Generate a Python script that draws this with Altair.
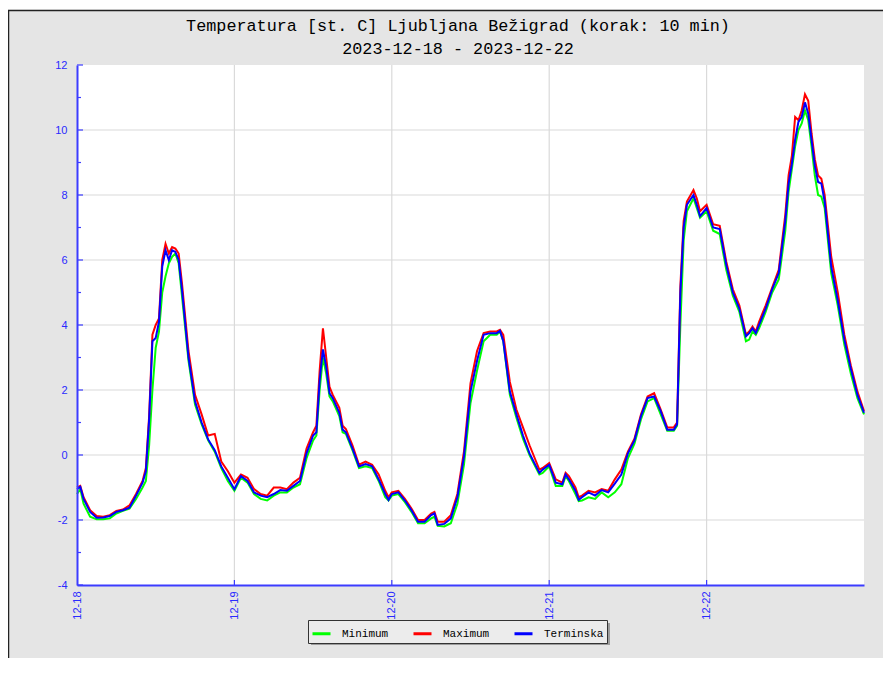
import json
import pandas as pd
import altair as alt

# ---------------- data (hours since 2023-12-18 00:00) ----------------
hours = [
    0, 0.5, 1, 2, 3, 4, 5, 6, 7, 8, 9, 10, 10.5, 11, 11.5, 12, 12.5, 13, 13.5, 14, 14.5, 15, 15.5, 16, 17, 18, 19, 20, 21, 22, 23,
    24, 25, 26, 27, 28, 29, 30, 31, 32, 33, 34, 35, 36, 36.5, 37, 37.5, 38, 38.5, 39, 40, 40.5, 41, 42, 43, 44, 45, 46, 47, 47.5,
    48, 49, 50, 51, 52, 53, 54, 54.5, 55, 56, 57, 58, 59, 60, 61, 62, 63, 64, 64.5, 65, 66, 67, 68, 69, 70, 70.5, 71,
    72, 73, 74, 74.5, 75, 76, 76.5, 77, 78, 79, 80, 81, 82, 83, 84, 85, 86, 87, 88, 89, 90, 91, 91.5, 92, 92.5, 93, 94, 94.5, 95,
    96, 97, 98, 99, 100, 101, 102, 102.5, 103, 103.5, 104, 105, 106, 107, 108, 108.5, 109, 109.5,
    110, 110.5, 111, 111.5, 112, 112.5, 113, 113.5, 114, 115, 116, 117, 118, 119, 120,
]

terminska = [
    -1.05, -0.98, -1.35, -1.75, -1.93, -1.92, -1.88, -1.75, -1.7, -1.62, -1.25, -0.85, -0.5, 1.1, 3.5, 3.6, 4.1, 5.8, 6.3, 6.0, 6.3, 6.25, 6.0, 5.1, 3.0, 1.65, 1.0, 0.48, 0.15, -0.35, -0.7,
    -1.05, -0.65, -0.8, -1.15, -1.25, -1.3, -1.2, -1.08, -1.1, -0.95, -0.8, 0.05, 0.6, 0.7, 2.3, 3.25, 2.7, 1.9, 1.75, 1.3, 0.78, 0.7, 0.2, -0.35, -0.28, -0.35, -0.75, -1.2, -1.38,
    -1.2, -1.15, -1.4, -1.7, -2.05, -2.05, -1.85, -1.8, -2.15, -2.12, -1.95, -1.3, -0.05, 1.95, 2.9, 3.7, 3.75, 3.75, 3.82, 3.5, 1.95, 1.25, 0.6, 0.05, -0.35, -0.55, -0.45,
    -0.3, -0.85, -0.9, -0.6, -0.75, -1.1, -1.38, -1.3, -1.15, -1.25, -1.08, -1.15, -0.88, -0.6, 0.05, 0.45, 1.2, 1.75, 1.8, 1.35, 0.78, 0.78, 0.95, 5.0, 7.0, 7.7, 8.0, 7.7, 7.35,
    7.6, 7.0, 6.95, 5.85, 5.0, 4.5, 3.65, 3.75, 3.9, 3.75, 4.0, 4.5, 5.1, 5.6, 7.2, 8.35, 8.95, 9.7,
    10.25, 10.4, 10.85, 10.5, 9.7, 8.9, 8.4, 8.35, 7.8, 5.8, 4.75, 3.55, 2.65, 1.85, 1.3,
]

maximum = [
    -1.0, -0.95, -1.3, -1.7, -1.88, -1.9, -1.85, -1.72, -1.68, -1.55, -1.2, -0.8, -0.4, 1.2, 3.7, 4.0, 4.2, 6.0, 6.5, 6.2, 6.4, 6.35, 6.2, 5.3, 3.2, 1.85, 1.25, 0.6, 0.65, -0.2, -0.5,
    -0.85, -0.6, -0.7, -1.05, -1.2, -1.25, -1.0, -1.0, -1.05, -0.85, -0.7, 0.2, 0.7, 0.9, 2.6, 3.9, 3.0, 2.1, 1.85, 1.45, 0.9, 0.8, 0.3, -0.3, -0.2, -0.3, -0.6, -1.1, -1.3,
    -1.15, -1.1, -1.35, -1.65, -2.0, -2.0, -1.8, -1.75, -2.05, -2.05, -1.85, -1.2, 0.1, 2.2, 3.2, 3.75, 3.8, 3.8, 3.85, 3.7, 2.25, 1.4, 0.85, 0.3, -0.2, -0.45, -0.4,
    -0.25, -0.75, -0.85, -0.55, -0.65, -1.0, -1.3, -1.25, -1.1, -1.15, -1.05, -1.1, -0.75, -0.45, 0.1, 0.5, 1.25, 1.8, 1.9, 1.4, 0.85, 0.85, 1.0, 5.2, 7.2, 7.8, 8.15, 7.9, 7.5,
    7.7, 7.1, 7.05, 5.95, 5.1, 4.6, 3.7, 3.8, 3.95, 3.8, 4.1, 4.6, 5.15, 5.7, 7.4, 8.6, 9.2, 10.4,
    10.3, 10.6, 11.1, 10.9, 9.9, 9.1, 8.6, 8.5, 8.0, 6.1, 5.0, 3.7, 2.75, 1.95, 1.35,
]

minimum = [
    -1.2, -1.05, -1.5, -1.9, -1.98, -1.98, -1.95, -1.8, -1.72, -1.65, -1.35, -1.0, -0.8, 0.3, 2.0, 3.3, 3.8, 5.0, 5.5, 5.9, 6.1, 6.2, 5.9, 4.9, 2.9, 1.55, 0.95, 0.45, 0.1, -0.4, -0.8,
    -1.1, -0.7, -0.85, -1.2, -1.35, -1.4, -1.25, -1.15, -1.15, -1.0, -0.9, -0.1, 0.45, 0.6, 2.0, 3.0, 2.5, 1.8, 1.65, 1.2, 0.7, 0.65, 0.15, -0.4, -0.35, -0.4, -0.8, -1.3, -1.4,
    -1.25, -1.2, -1.45, -1.75, -2.1, -2.1, -1.95, -1.9, -2.18, -2.2, -2.1, -1.5, -0.3, 1.6, 2.6, 3.5, 3.7, 3.7, 3.8, 3.5, 1.85, 1.15, 0.5, 0.0, -0.4, -0.6, -0.55,
    -0.35, -0.95, -0.95, -0.65, -0.8, -1.2, -1.42, -1.4, -1.3, -1.35, -1.15, -1.3, -1.15, -0.9, -0.1, 0.35, 1.1, 1.65, 1.75, 1.25, 0.75, 0.75, 0.9, 4.0, 6.6, 7.5, 7.9, 7.6, 7.3,
    7.5, 6.9, 6.8, 5.7, 4.9, 4.4, 3.5, 3.55, 3.8, 3.7, 3.9, 4.4, 5.0, 5.4, 6.9, 8.1, 8.8, 9.5,
    10.0, 10.2, 10.6, 10.3, 9.5, 8.6, 8.0, 7.95, 7.6, 5.6, 4.6, 3.4, 2.5, 1.75, 1.25,
]

series_names = ["Minimum", "Maximum", "Terminska"]
series_colors = ["#00ff00", "#ff0000", "#0000ff"]

day_hours = [0, 24, 48, 72, 96]
day_labels = ["12-18", "12-19", "12-20", "12-21", "12-22"]
grid_x = [24, 48, 72, 96]
grid_y = [-2, 0, 2, 4, 6, 8, 10]
y_labels = [-4, -2, 0, 2, 4, 6, 8, 10, 12]
y_major = [-4, -2, 0, 2, 4, 6, 8, 10, 12]
y_minor = [-3, -1, 1, 3, 5, 7, 9, 11]

title_lines = ["Temperatura [st. C] Ljubljana Bežigrad (korak: 10 min)",
               "2023-12-18 - 2023-12-22"]

# ---------------- build tables ----------------
rows = []
for name, vals in zip(series_names, [minimum, maximum, terminska]):
    for h, v in zip(hours, vals):
        rows.append({"h": h, "v": v, "serija": name})
df = pd.DataFrame(rows)

W, H = 787, 520
BLUE_AX = "#3c3cff"
BLUE_TXT = "#2a2aff"

xs = alt.Scale(domain=[0, 120], nice=False, zero=False)
ys = alt.Scale(domain=[-4, 12], nice=False, zero=False)

label_expr = json.dumps(day_labels) + "[round(datum.value / 24)]"

x_axis = alt.Axis(values=day_hours, labelExpr=label_expr, labelAngle=270, labelPadding=6,
                  ticks=False, grid=False, domainColor=BLUE_AX, domainWidth=2,
                  labelColor=BLUE_TXT, labelFont="Liberation Sans", labelFontSize=11,
                  title=None, zindex=1)
y_axis = alt.Axis(values=y_labels, labelExpr="'' + datum.value", ticks=False, grid=False,
                  domainColor=BLUE_AX, domainWidth=2, labelColor=BLUE_TXT,
                  labelFont="Liberation Sans", labelFontSize=11, labelPadding=10,
                  title=None, zindex=1)

one = pd.DataFrame({"k": [0]})

# frame border of the image
border_left = alt.Chart(one).mark_rule(color="#222222", strokeWidth=1.5).encode(
    x=alt.value(-68.5), y=alt.value(-55), y2=alt.value(620))
border_top = alt.Chart(one).mark_rule(color="#222222", strokeWidth=1.5).encode(
    x=alt.value(-69), x2=alt.value(830), y=alt.value(-54.5))
white_top = alt.Chart(one).mark_rule(color="white", strokeWidth=2.5).encode(
    x=alt.value(-69), x2=alt.value(830), y=alt.value(-56.5))

gy = alt.Chart(pd.DataFrame({"v": grid_y})).mark_rule(color="#dadada", strokeWidth=1.2).encode(
    y=alt.Y("v:Q", scale=ys, axis=y_axis))
gx = alt.Chart(pd.DataFrame({"v": grid_x})).mark_rule(color="#dadada", strokeWidth=1.2).encode(
    x=alt.X("v:Q", scale=xs, axis=x_axis))

tick_major = alt.Chart(pd.DataFrame({"v": y_major})).mark_rule(color=BLUE_AX, strokeWidth=1.2).encode(
    y=alt.Y("v:Q", scale=ys), x=alt.value(0), x2=alt.value(6))
tick_minor = alt.Chart(pd.DataFrame({"v": y_minor})).mark_rule(color=BLUE_AX, strokeWidth=1.2).encode(
    y=alt.Y("v:Q", scale=ys), x=alt.value(0), x2=alt.value(4))
tick_x = alt.Chart(pd.DataFrame({"v": grid_x})).mark_rule(color=BLUE_AX, strokeWidth=1.2).encode(
    x=alt.X("v:Q", scale=xs), y=alt.value(H), y2=alt.value(H - 5))

color_enc = alt.Color(
    "serija:N",
    scale=alt.Scale(domain=series_names, range=series_colors),
    legend=alt.Legend(
        orient="none", legendX=231, legendY=555, direction="horizontal", title=None,
        fillColor="#ececec", strokeColor="#333333", padding=3,
        symbolType="stroke", symbolSize=324, symbolStrokeWidth=3,
        labelFont="Liberation Mono", labelFontSize=11, labelColor="black",
        labelOffset=10, columnPadding=18, rowPadding=0,
    ),
)

lines = []
for name in series_names:
    lines.append(
        alt.Chart(df).transform_filter(alt.datum.serija == name)
        .mark_line(strokeWidth=2, interpolate="linear")
        .encode(x=alt.X("h:Q", scale=xs), y=alt.Y("v:Q", scale=ys), color=color_enc)
    )

shadow = alt.Chart(one).mark_rect(color="#9c9c9c").encode(
    x=alt.value(234), x2=alt.value(533), y=alt.value(558), y2=alt.value(580))

chart = alt.layer(
    white_top, border_left, border_top, gy, gx, tick_major, tick_minor, tick_x,
    *lines, shadow,
).properties(
    width=W, height=H,
    title=alt.TitleParams(text=title_lines, font="Liberation Mono", fontSize=16.8,
                          fontWeight="normal", color="black", anchor="middle",
                          frame="group", dx=-12.5, offset=-50.5, lineHeight=23),
    autosize=alt.AutoSizeParams(type="none"),
    padding={"left": 69, "top": 57, "right": 19, "bottom": 73},
    background="#e5e5e5",
).configure_view(stroke=None, fill="white")

chart.save("out.html", embed_options={"renderer": "svg", "actions": False})
